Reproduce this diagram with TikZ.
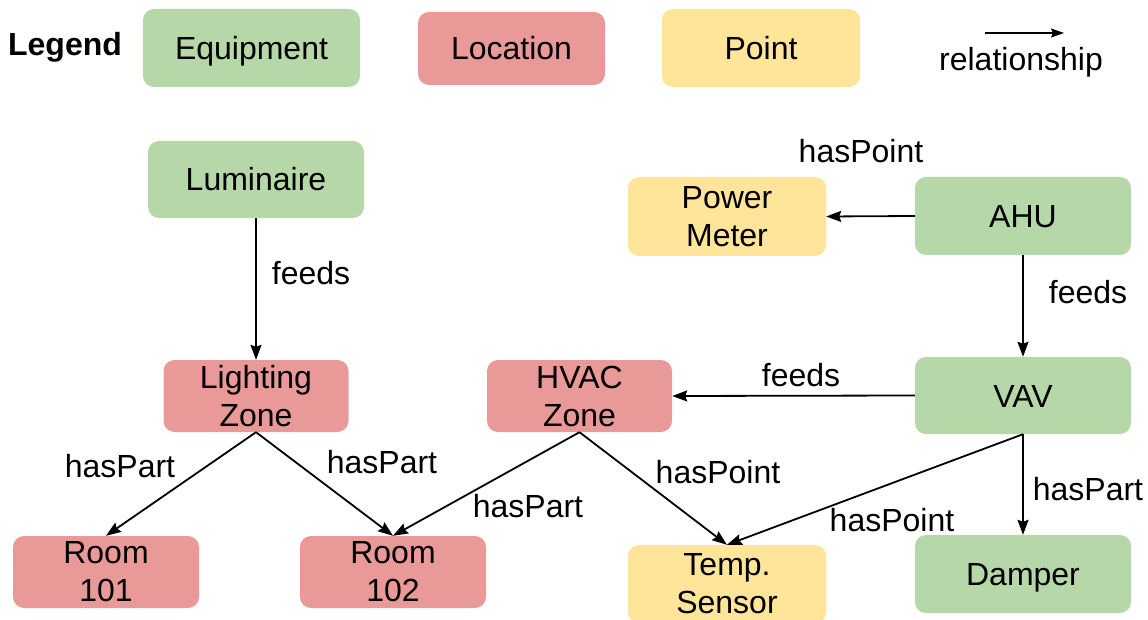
\documentclass[tikz,border=0pt]{standalone}
\usepackage{fontspec}
\setmainfont{Liberation Sans}
\usetikzlibrary{arrows.meta}
\definecolor{eqc}{HTML}{B6D7A8}
\definecolor{locc}{HTML}{EA9999}
\definecolor{ptc}{HTML}{FFE599}
\begin{document}
\begin{tikzpicture}[x=1pt,y=-1pt,
  box/.style={rectangle,rounded corners=11pt,draw=none,inner sep=0pt,align=center,
    font=\fontsize{32}{38}\selectfont},
  one/.style={text height=23pt,text depth=0pt},
  eq/.style={box,fill=eqc},
  loc/.style={box,fill=locc},
  pt/.style={box,fill=ptc},
  lbl/.style={inner sep=0pt,font=\fontsize{32}{38}\selectfont},
  rel/.style={line width=1.8pt,-{Stealth[length=15pt,width=11pt,inset=2pt]}}]
\useasboundingbox (0,0) rectangle (1148,620);
% legend
\node[lbl,font=\fontsize{32}{38}\selectfont\bfseries] (leg) at (65,47) {Legend};
\node[eq,one,minimum width=217pt,minimum height=78pt] (lequip) at (251.5,48) {Equipment};
\node[loc,one,minimum width=187pt,minimum height=73pt] (lloc) at (511.5,48.5) {Location};
\node[pt,one,minimum width=198pt,minimum height=78pt] (lpt) at (761,48) {Point};
\coordinate (la) at (985,33);
\coordinate (lb) at (1064,33);
\draw[line width=1.6pt,-{Stealth[length=13pt,width=9pt,inset=2pt]}] (la) -- (lb);
\node[lbl] (lrel) at (1021,62) {relationship};
% nodes
\node[eq,one,minimum width=216pt,minimum height=77pt] (lum) at (256,179.5) {Luminaire};
\node[loc,minimum width=185pt,minimum height=72pt] (lz) at (256,396) {Lighting\\Zone};
\node[loc,minimum width=185pt,minimum height=72pt] (hz) at (579.5,396) {HVAC\\Zone};
\node[loc,minimum width=186pt,minimum height=72pt] (r101) at (106,572) {Room\\101};
\node[loc,minimum width=186pt,minimum height=72pt] (r102) at (393,572) {Room\\102};
\node[pt,minimum width=198pt,minimum height=78pt] (ts) at (727,584) {Temp.\\Sensor};
\node[eq,one,minimum width=216pt,minimum height=78pt] (dmp) at (1023,574) {Damper};
\node[eq,one,minimum width=216pt,minimum height=77pt] (vav) at (1023,395.5) {VAV};
\node[eq,one,minimum width=216pt,minimum height=78pt] (ahu) at (1023,216) {AHU};
\node[pt,minimum width=198pt,minimum height=79pt] (pm) at (727,216.5) {Power\\Meter};
% connectors
\draw[rel] (lum.south) -- (lz.north);
\draw[rel] (ahu.west) -- (pm.east);
\draw[rel] (ahu.south) -- (vav.north);
\draw[rel] (vav.west) -- (hz.east);
\draw[rel] (lz.south) -- (r101.north);
\draw[rel] (lz.south) -- (r102.north);
\draw[rel] (hz.south) -- (r102.north);
\draw[rel] (hz.south) -- (ts.north);
\draw[rel] (vav.south) -- (ts.north);
\draw[rel] (vav.south) -- (dmp.north);
% labels
\node[lbl] (t1) at (861,151) {hasPoint};
\node[lbl] (t2) at (311,273) {feeds};
\node[lbl] (t3) at (1088,292) {feeds};
\node[lbl] (t4) at (801,375) {feeds};
\node[lbl] (t5) at (120,466) {hasPart};
\node[lbl] (t6) at (382,462) {hasPart};
\node[lbl] (t7) at (528,506) {hasPart};
\node[lbl] (t8) at (718,472) {hasPoint};
\node[lbl] (t9) at (892,520) {hasPoint};
\node[lbl] (t10) at (1088,489) {hasPart};
\end{tikzpicture}
\end{document}
